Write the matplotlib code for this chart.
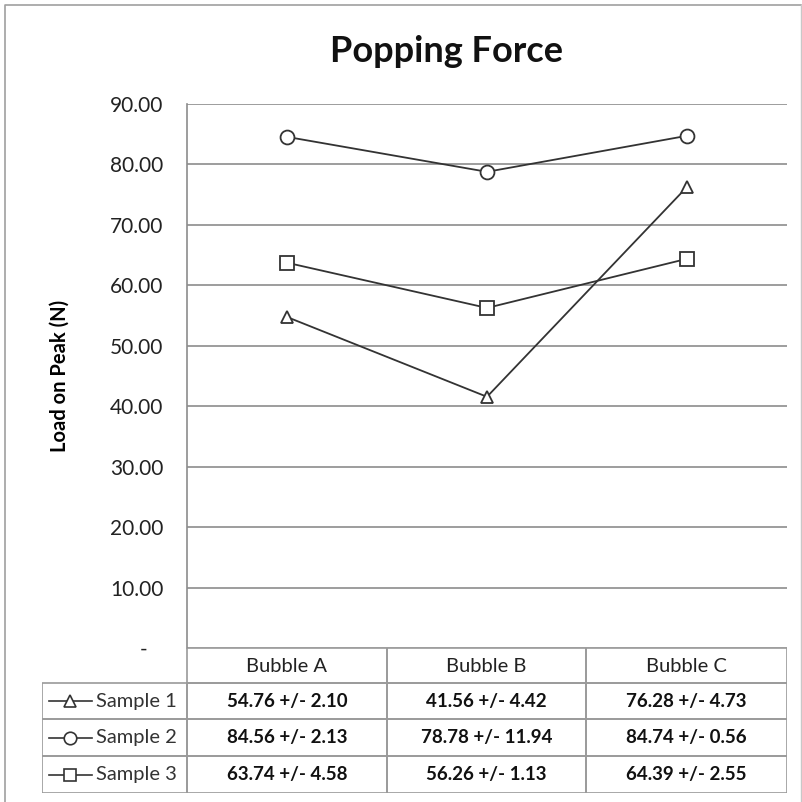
import matplotlib.pyplot as plt
from matplotlib.lines import Line2D
from matplotlib.patches import Rectangle

plt.rcParams['font.family'] = ['Lato', 'DejaVu Sans']

bubbles = ["Bubble A", "Bubble B", "Bubble C"]
samples = ["Sample 1", "Sample 2", "Sample 3"]
sample1 = [54.76, 41.56, 76.28]
sample2 = [84.56, 78.78, 84.74]
sample3 = [63.74, 56.26, 64.39]
sample1_sd = [2.10, 4.42, 4.73]
sample2_sd = [2.13, 11.94, 0.56]
sample3_sd = [4.58, 1.13, 2.55]
yticks = [0, 10, 20, 30, 40, 50, 60, 70, 80, 90]
ylabels = ["-   ", "10.00", "20.00", "30.00", "40.00", "50.00", "60.00", "70.00", "80.00", "90.00"]

W, H = 803, 802
fig = plt.figure(figsize=(W / 100, H / 100), dpi=100)


def box(x0, y0, x1, y1):
    # pixel box (top-left origin) -> figure fraction rect
    return [x0 / W, 1 - y1 / H, (x1 - x0) / W, (y1 - y0) / H]


grey = "#8c8c8c"

# chart frame
frame = fig.add_axes([0, 0, 1, 1])
frame.set_xlim(0, W)
frame.set_ylim(H, 0)
frame.axis("off")
frame.plot([5, 5, 801], [802, 5, 5], color="#a0a0a0", lw=1.2)
frame.plot([801, 801], [5, 802], color="#c8c8c8", lw=1.0)

# plot area
ax = fig.add_axes(box(187, 104, 787, 648))
x = [0, 1, 2]
ax.set_xlim(-0.5, 2.5)
ax.set_ylim(0, 90)
ax.set_yticks(yticks)
ax.set_yticklabels(ylabels, fontsize=15, color="#222222")
ax.tick_params(axis="y", length=0, pad=17)
ax.set_xticks([])
ax.grid(axis="y", color=grey, lw=1.2)
ax.set_axisbelow(True)
for s in ["top", "right", "bottom"]:
    ax.spines[s].set_visible(False)
ax.spines["left"].set_color(grey)
ax.spines["left"].set_linewidth(1.2)

series = [sample1, sample2, sample3]
markers = ["^", "o", "s"]
sizes = [9, 10, 10]
for vals, m, ms in zip(series, markers, sizes):
    ax.plot(x, vals, color="#333333", lw=1.3, marker=m, ms=ms,
            mfc="white", mec="#333333", mew=1.3, zorder=3)

ax.set_ylabel("Load on Peak (N)", fontsize=14.5, fontweight="bold")
ax.yaxis.set_label_coords((70 - 187) / 600, 0.5)
fig.text(447 / W, 1 - 51 / H, "Popping Force", ha="center", va="center",
         fontsize=26, fontweight="bold", color="#111111")

# data table under the plot
tb = fig.add_axes(box(42, 648, 787, 793))
tb.set_xlim(42, 787)
tb.set_ylim(793, 648)
tb.axis("off")
cols = [187, 387, 586, 787]
rows = [648, 683, 719, 756, 793]
lc = "#9a9a9a"
# header cells
for c in range(3):
    tb.add_patch(Rectangle((cols[c], rows[0]), cols[c + 1] - cols[c], rows[1] - rows[0],
                           fill=False, ec=lc, lw=1.2))
    tb.text((cols[c] + cols[c + 1]) / 2, (rows[0] + rows[1]) / 2 + 1, bubbles[c],
            ha="center", va="center", fontsize=14.5, color="#222222")
# body cells
all_sd = [sample1_sd, sample2_sd, sample3_sd]
for r in range(3):
    y0, y1 = rows[r + 1], rows[r + 2]
    yc = (y0 + y1) / 2
    tb.add_patch(Rectangle((42, y0), cols[0] - 42, y1 - y0, fill=False, ec=lc, lw=1.2))
    tb.add_line(Line2D([49, 92], [yc, yc], color="#333333", lw=1.2))
    tb.plot([70], [yc], marker=markers[r], ms=sizes[r] - 1, mfc="white",
            mec="#333333", mew=1.2, color="#333333")
    tb.text(96, yc, samples[r], ha="left", va="center", fontsize=14.5, color="#333333")
    for c in range(3):
        tb.add_patch(Rectangle((cols[c], y0), cols[c + 1] - cols[c], y1 - y0,
                               fill=False, ec=lc, lw=1.2))
        tb.text((cols[c] + cols[c + 1]) / 2, yc, f"{series[r][c]:.2f} +/- {all_sd[r][c]:.2f}",
                ha="center", va="center", fontsize=13.5, fontweight="bold", color="#111111")

fig.savefig("out.png", dpi=100)
